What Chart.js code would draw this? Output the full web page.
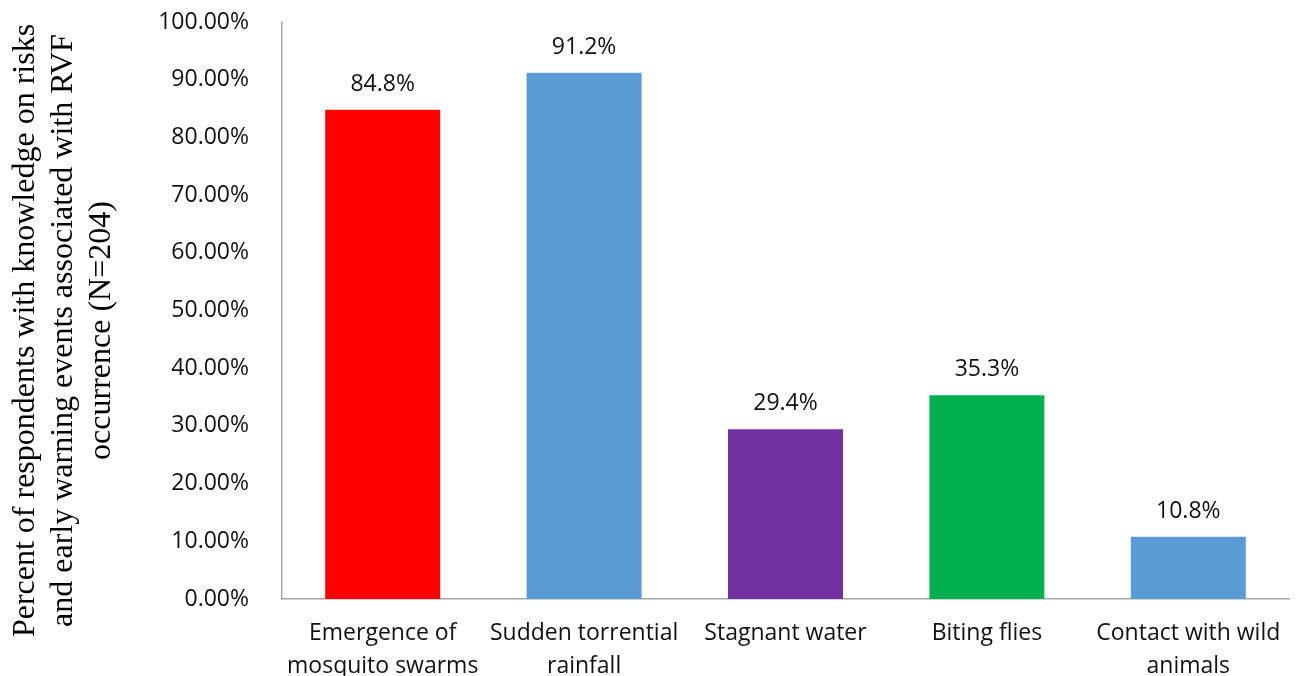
<!DOCTYPE html>
<html>
<head>
<meta charset="utf-8">
<script src="https://cdn.jsdelivr.net/npm/chart.js@4"></script>
<style>
  html, body { margin: 0; padding: 0; background: #ffffff; }
  #wrap { width: 1300px; height: 676px; position: relative; }
</style>
</head>
<body>
<div id="wrap"><canvas id="c"></canvas></div>
<script>
const categories = [
  ['Emergence of', 'mosquito swarms'],
  ['Sudden torrential', 'rainfall'],
  'Stagnant water',
  'Biting flies',
  ['Contact with wild', 'animals']
];
const values = [84.8, 91.2, 29.4, 35.3, 10.8];
const barColors = ['#FF0000', '#5B9BD5', '#7030A0', '#00B050', '#5B9BD5'];
const yTitle = [
  'Percent of respondents with knowledge on risks',
  'and early warning events associated with RVF',
  'occurrence (N=204)'
];
const yMin = 0, yMax = 100, yStep = 10;

const valueLabels = {
  id: 'valueLabels',
  afterDatasetsDraw(chart) {
    const ctx = chart.ctx;
    const meta = chart.getDatasetMeta(0);
    ctx.save();
    ctx.font = '23px "Open Sans"';
    ctx.fillStyle = '#111111';
    ctx.textAlign = 'center';
    ctx.textBaseline = 'alphabetic';
    meta.data.forEach((bar, i) => {
      ctx.fillText(values[i].toFixed(1) + '%', bar.x, bar.y - 19);
    });
    ctx.restore();
  }
};

new Chart(document.getElementById('c'), {
  type: 'bar',
  data: {
    labels: categories,
    datasets: [{
      data: values,
      backgroundColor: barColors,
      borderWidth: 0,
      barPercentage: 1,
      categoryPercentage: 0.571
    }]
  },
  options: {
    responsive: true,
    maintainAspectRatio: false,
    animation: false,
    events: [],
    layout: { padding: { left: 0, right: 11, top: 22, bottom: 0 } },
    plugins: {
      legend: { display: false },
      tooltip: { enabled: false },
      title: { display: false }
    },
    scales: {
      x: {
        grid: { display: false },
        border: { display: true, color: '#A6A6A6', width: 1.5 },
        ticks: {
          color: '#111111',
          font: { family: '"Open Sans"', size: 23, lineHeight: 1.43 },
          padding: 10,
          maxRotation: 0,
          minRotation: 0,
          autoSkip: false,
          crossAlign: 'near'
        },
        afterFit(scale) { scale.height = 77; }
      },
      y: {
        min: yMin,
        max: yMax,
        grid: { display: false },
        border: { display: true, color: '#A6A6A6', width: 1.5 },
        ticks: {
          stepSize: yStep,
          color: '#111111',
          font: { family: '"Open Sans"', size: 23 },
          padding: 25,
          callback: (v) => Number(v).toFixed(2) + '%'
        },
        title: {
          display: true,
          text: yTitle,
          color: '#000000',
          font: { family: '"Liberation Serif"', size: 32, lineHeight: 1.2 },
          padding: { top: 6, bottom: 0 }
        },
        afterFit(scale) {
          scale.width = 282;
          scale.paddingTop = 0;
          scale.paddingBottom = 0;
          if (!scale._titleShifted) {
            const orig = scale.drawTitle;
            scale.drawTitle = function () {
              const ctx = this.ctx;
              ctx.save();
              ctx.translate(0, 20);
              orig.call(this);
              ctx.restore();
            };
            scale._titleShifted = true;
          }
        }
      }
    }
  },
  plugins: [valueLabels]
});
</script>
</body>
</html>
